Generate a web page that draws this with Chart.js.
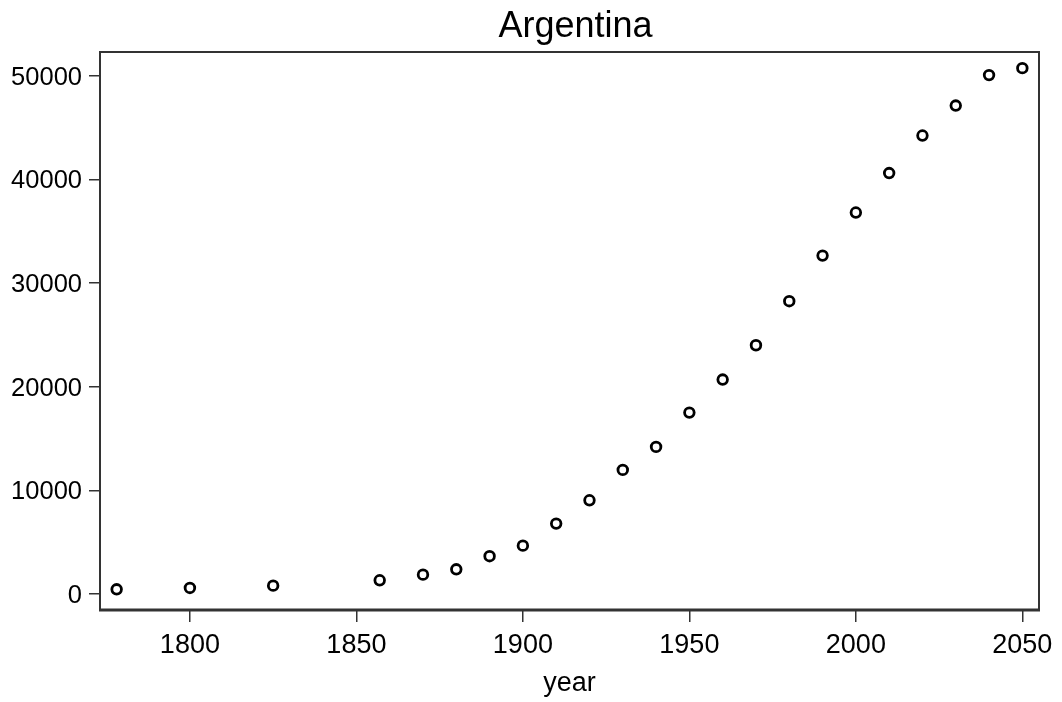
<!DOCTYPE html>
<html>
<head>
<meta charset="utf-8">
<script src="https://cdn.jsdelivr.net/npm/chart.js@4.4.0/dist/chart.umd.min.js"></script>
<style>
  html, body { margin: 0; padding: 0; background: #fff; }
  #wrap { width: 1062px; height: 702px; }
</style>
</head>
<body>
<div id="wrap"><canvas id="chart"></canvas></div>
<script>
// Argentina population (thousands) by year
const years = [1778, 1800, 1825, 1857, 1870, 1880, 1890, 1900, 1910, 1920, 1930, 1940,
               1950, 1960, 1970, 1980, 1990, 2000, 2010, 2020, 2030, 2040, 2050];
const population = [450, 580, 800, 1320, 1860, 2380, 3640, 4660, 6790, 9040, 11970, 14190,
                    17500, 20690, 24000, 28250, 32650, 36810, 40620, 44240, 47130, 50070, 50740];
const xTicks = [1800, 1850, 1900, 1950, 2000, 2050];
const yTicks = [0, 10000, 20000, 30000, 40000, 50000];
const chartTitle = 'Argentina';

const FONT = '"Liberation Sans", Arial, sans-serif';
const AXIS = '#333333';

// full box around the plot area + the title (drawn slightly right of centre like the original)
const frame = {
    id: 'frame',
    afterDraw(chart) {
        const { ctx, chartArea: a } = chart;
        ctx.save();
        ctx.strokeStyle = AXIS;
        ctx.lineWidth = 2;
        ctx.strokeRect(a.left, a.top, a.right - a.left, a.bottom - a.top);
        ctx.lineWidth = 3;
        ctx.beginPath();
        ctx.moveTo(a.left - 1, a.bottom);
        ctx.lineTo(a.right + 1, a.bottom);
        ctx.stroke();

        ctx.fillStyle = '#000';
        ctx.font = '36px ' + FONT;
        ctx.textAlign = 'center';
        ctx.textBaseline = 'middle';
        ctx.fillText(chartTitle, a.left + (a.right - a.left) / 2 + 6, 27);
        ctx.restore();
    }
};

new Chart(document.getElementById('chart'), {
    type: 'scatter',
    data: {
        datasets: [{
            data: years.map((y, i) => ({ x: y, y: population[i] })),
            pointStyle: 'circle',
            pointRadius: 4.8,
            pointBorderWidth: 2.8,
            pointBorderColor: '#000',
            pointBackgroundColor: '#fff',
            pointHoverRadius: 4.8
        }]
    },
    options: {
        responsive: true, maintainAspectRatio: false,
        animation: false,
        layout: { padding: { left: 0, right: 23, top: 52, bottom: 0 } },
        plugins: {
            legend: { display: false },
            tooltip: { enabled: false },
            title: { display: false }
        },
        scales: {
            x: {
                type: 'linear', min: 1773, max: 2055,
                afterBuildTicks: s => { s.ticks = xTicks.map(v => ({ value: v })); },
                afterFit: s => { s.height = 92; },
                border: { display: false },
                grid: { drawOnChartArea: false, drawTicks: true, tickLength: 12, tickColor: AXIS, lineWidth: 1.5 },
                ticks: {
                    color: '#000', padding: 7, maxRotation: 0,
                    font: { family: FONT, size: 27 },
                    callback: v => String(v)
                },
                title: {
                    display: true, text: 'year', color: '#000',
                    font: { family: FONT, size: 27 }, padding: { top: 0, bottom: 2 }
                }
            },
            y: {
                type: 'linear', min: -1550, max: 52300,
                afterBuildTicks: s => { s.ticks = yTicks.map(v => ({ value: v })); },
                afterFit: s => { s.width = 100; },
                border: { display: false },
                grid: { drawOnChartArea: false, drawTicks: true, tickLength: 11, tickColor: AXIS, lineWidth: 1.5 },
                ticks: {
                    color: '#000', padding: 7, labelOffset: 2,
                    font: { family: FONT, size: 25.5 },
                    callback: v => String(v)
                }
            }
        }
    },
    plugins: [frame]
});
</script>
</body>
</html>
